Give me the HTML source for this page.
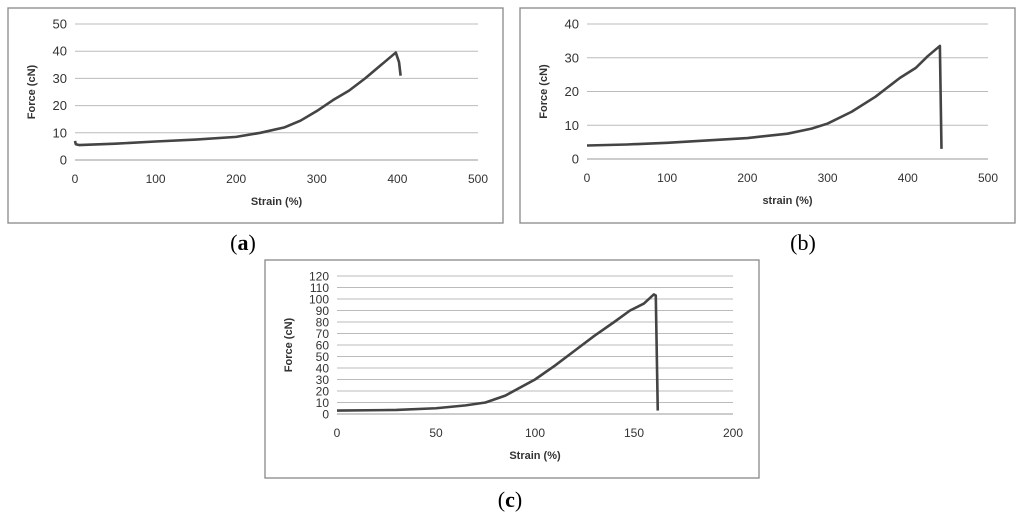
<!DOCTYPE html>
<html><head><meta charset="utf-8"><style>
body{margin:0;background:#fff;width:1024px;height:522px;overflow:hidden}
svg{display:block}
text{font-family:"Liberation Sans",sans-serif;fill:#333}
.cap{font-family:"Liberation Serif",serif;font-size:22px;fill:#000}
</style></head><body>
<svg id="s" width="1024" height="522">
<text class="cap" x="243" y="250" text-anchor="middle">(<tspan font-weight="bold">a</tspan>)</text>
<text class="cap" x="803" y="250" text-anchor="middle">(b)</text>
<text class="cap" x="510" y="507" text-anchor="middle">(<tspan font-weight="bold">c</tspan>)</text>
</svg>
<script>
const aX=[0,1,5,50,100,150,200,230,260,280,300,320,340,360,380,398,402,404];
const aY=[7,5.8,5.5,6,6.8,7.5,8.5,10,12,14.5,18,22,25.5,30,35,39.5,36,31];
const bX=[0,50,100,150,200,250,280,300,330,360,390,410,425,440,442];
const bY=[4,4.3,4.8,5.5,6.2,7.5,9,10.5,14,18.5,24,27,30.5,33.5,3];
const cX=[0,30,50,65,75,85,100,110,120,130,140,148,155,160,161,162];
const cY=[3,3.5,5,7.5,10,16,30,42,55,68,80,90,96,104,103,3];
const aXT=[0,100,200,300,400,500],aYT=[0,10,20,30,40,50];
const bXT=[0,100,200,300,400,500],bYT=[0,10,20,30,40];
const cXT=[0,50,100,150,200],cYT=[0,10,20,30,40,50,60,70,80,90,100,110,120];
const s=document.getElementById('s');
function el(t,a,p){const e=document.createElementNS('http://www.w3.org/2000/svg',t);for(const k in a)e.setAttribute(k,a[k]);(p||s).appendChild(e);return e;}
function chart(id,box,px0,px1,py0,py1,xt,yt,xs,ys,xlab,yfs){
 const g=el('g',{});
 
 
 const r=el('rect',{x:box[0],y:box[1],width:box[2],height:box[3],fill:'#fff',stroke:'#888','stroke-width':1.3},g);
 
 
 const xm=xt[xt.length-1],ym=yt[yt.length-1];
 const X=v=>px0+(px1-px0)*v/xm, Y=v=>py0-(py0-py1)*v/ym;
 yt.forEach(v=>{const l=el('line',{x1:px0,x2:px1,y1:Y(v),y2:Y(v),stroke:v==0?'#999':'#bbb','stroke-width':1},g);
  
  
  const t=el('text',{x:px0-8,y:Y(v)+4.5,'text-anchor':'end','font-size':yfs},g);t.textContent=v;
  
  });
 xt.forEach(v=>{const t=el('text',{x:X(v),y:py0+23,'text-anchor':'middle','font-size':12},g);t.textContent=v;
  
  });
 const xl=el('text',{x:(px0+px1)/2,y:py0+45,'text-anchor':'middle','font-size':11,'font-weight':'bold'},g);xl.textContent=xlab;
 
 
 const cy=(py0+py1)/2, cx=box[0]+27;
 const yl=el('text',{x:cx,y:cy,'text-anchor':'middle','font-size':11,'font-weight':'bold',transform:`rotate(-90 ${cx} ${cy})`},g);yl.textContent='Force (cN)';
 
 
 const p=el('polyline',{points:xs.map((v,i)=>X(v)+','+Y(ys[i])).join(' '),fill:'none',stroke:'#444','stroke-width':2.6,'stroke-linejoin':'round'},g);
 
 
}
chart('a',[8,8,495,215],75,478,160,24,aXT,aYT,aX,aY,'Strain (%)',13);
chart('b',[520,8,495,215],587,988,159,24,bXT,bYT,bX,bY,'strain (%)',13);
chart('c',[265,260,494,218],337,733,414,276,cXT,cYT,cX,cY,'Strain (%)',12);
</script>
</body></html>
